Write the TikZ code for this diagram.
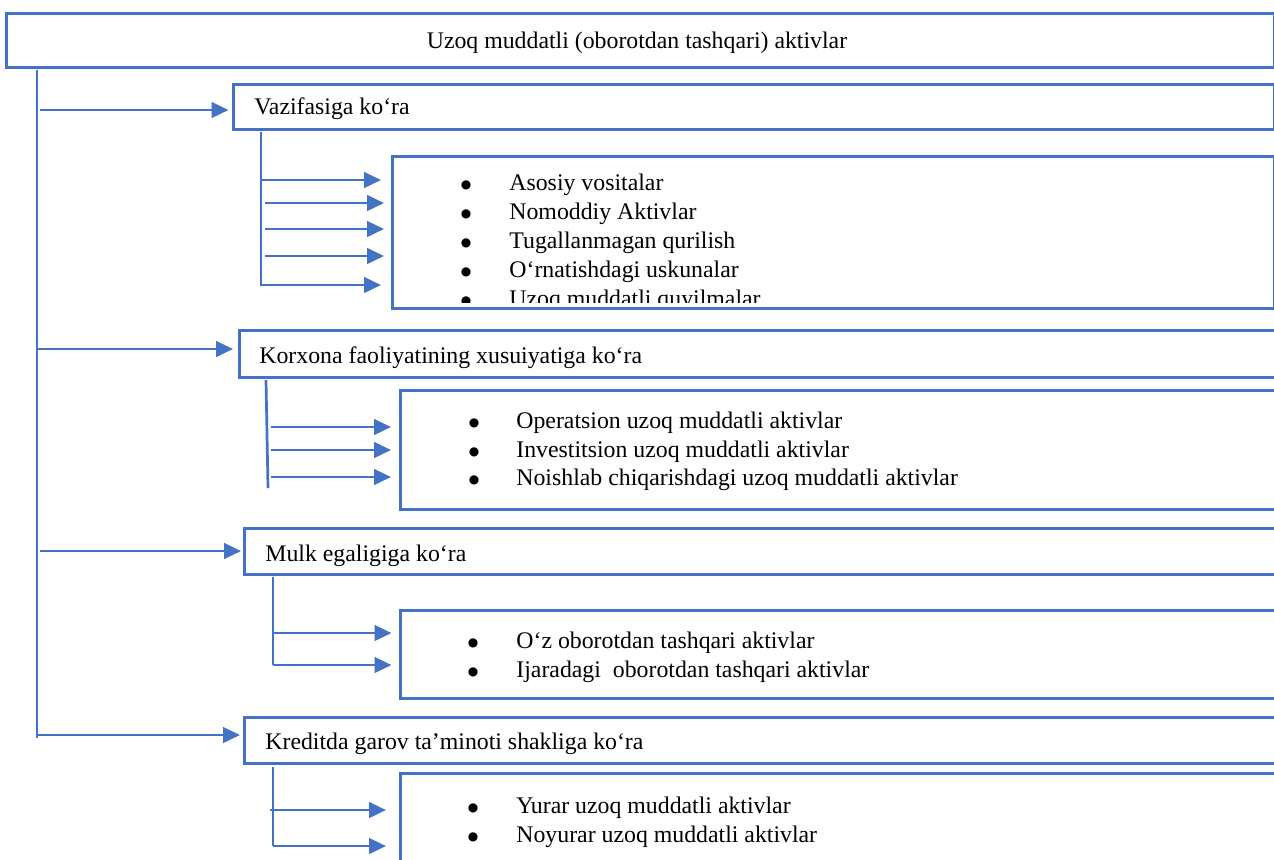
\documentclass[tikz,border=0pt]{standalone}
\usepackage{fontspec}
\setmainfont{Liberation Serif}
\newfontfamily\bulfont{DejaVu Sans}
\usetikzlibrary{arrows.meta}
\definecolor{lblue}{HTML}{4472C4}
\begin{document}
\begin{tikzpicture}[x=0.5pt,y=-0.5pt,
  box/.style={draw=lblue, line width=1.35pt, inner sep=0pt, anchor=north west, fill=none},
  conn/.style={draw=lblue, line width=1.35pt},
  arr/.style={conn, -{Triangle[length=8.5pt,width=7.8pt]}},
  txt/.style={anchor=base west, inner sep=0pt, font=\fontsize{11.9}{14.35}\selectfont},
  ctr/.style={anchor=base, inner sep=0pt, font=\fontsize{11.9}{14.35}\selectfont},
  bul/.style={anchor=base, inner sep=0pt, font=\bulfont\fontsize{6}{7}\selectfont}]
\useasboundingbox (0,0) rectangle (1274,859);
\clip (0,0) rectangle (1274,859);
\fill[white] (0,0) rectangle (1274,859);

% boxes
\node[box, minimum width=634pt, minimum height=27pt] (top) at (5,12) {};
\node[box, minimum width=520.5pt, minimum height=22.5pt] (b1) at (232,83) {};
\node[box, minimum width=441pt, minimum height=76pt] (l1) at (391,155) {};
\node[box, minimum width=526pt, minimum height=23.5pt] (b2) at (238,329) {};
\node[box, minimum width=445.5pt, minimum height=59.5pt] (l2) at (399,389) {};
\node[box, minimum width=523.5pt, minimum height=23pt] (b3) at (243,527) {};
\node[box, minimum width=445.5pt, minimum height=44pt] (l3) at (399,609) {};
\node[box, minimum width=523.5pt, minimum height=23pt] (b4) at (243,716) {};
\node[box, minimum width=445.5pt, minimum height=54pt] (l4) at (399,772) {};

% texts
\node[ctr] (title) at (637,48) {Uzoq muddatli (oborotdan tashqari) aktivlar};
\node[txt] (t1) at (254,114) {Vazifasiga ko‘ra};
\node[txt] (t2) at (259,363) {Korxona faoliyatining xusuiyatiga ko‘ra};
\node[txt] (t3) at (265,561) {Mulk egaligiga ko‘ra};
\node[txt] (t4) at (265,749) {Kreditda garov ta’minoti shakliga ko‘ra};

% list 1
\node[bul] (p1a) at (466,188) {●}; \node[txt] (i1a) at (509,190) {Asosiy vositalar};
\node[bul] (p1b) at (466,217) {●}; \node[txt] (i1b) at (509,219) {Nomoddiy Aktivlar};
\node[bul] (p1c) at (466,246) {●}; \node[txt] (i1c) at (509,248) {Tugallanmagan qurilish};
\node[bul] (p1d) at (466,275) {●}; \node[txt] (i1d) at (509,277) {O‘rnatishdagi uskunalar};
\begin{scope}
  \clip (391,155) rectangle (1273,302);
  \node[bul] (p1e) at (466,304) {●}; \node[txt] (i1e) at (509,306) {Uzoq muddatli quyilmalar};
\end{scope}

% list 2
\node[bul] (p2a) at (474,426) {●}; \node[txt] (i2a) at (516,428) {Operatsion uzoq muddatli aktivlar};
\node[bul] (p2b) at (474,455) {●}; \node[txt] (i2b) at (516,457) {Investitsion uzoq muddatli aktivlar};
\node[bul] (p2c) at (474,483) {●}; \node[txt] (i2c) at (516,485) {Noishlab chiqarishdagi uzoq muddatli aktivlar};

% list 3
\node[bul] (p3a) at (473,646) {●}; \node[txt] (i3a) at (516,648) {O‘z oborotdan tashqari aktivlar};
\node[bul] (p3b) at (473,675) {●}; \node[txt] (i3b) at (516,677) {Ijaradagi\ \ oborotdan tashqari aktivlar};

% list 4
\node[bul] (p4a) at (473,811) {●}; \node[txt] (i4a) at (516,813) {Yurar uzoq muddatli aktivlar};
\node[bul] (p4b) at (473,840) {●}; \node[txt] (i4b) at (516,842) {Noyurar uzoq muddatli aktivlar};

% main trunk
\coordinate (m0) at (37,70);
\coordinate (m1) at (37,738);
\draw[conn] (m0) -- (m1);
\coordinate (a1) at (40,110);
\coordinate (a2) at (38,349);
\coordinate (a3) at (40,551);
\coordinate (a4) at (38,735);
\draw[arr, shorten >=1.75pt] (a1) -- (a1 -| b1.west);
\draw[arr, shorten >=2.5pt] (a2) -- (a2 -| b2.west);
\draw[arr, shorten >=1pt] (a3) -- (a3 -| b3.west);
\draw[arr, shorten >=1.5pt] (a4) -- (a4 -| b4.west);

% group 1
\coordinate (g1t) at (261,132);
\coordinate (g1b) at (261,286);
\draw[conn] (g1t) -- (g1b);
\coordinate (s1a) at (261,180);
\coordinate (s1b) at (265,203);
\coordinate (s1c) at (265,229);
\coordinate (s1d) at (265,256);
\coordinate (s1e) at (261,285);
\draw[arr, shorten >=5pt] (s1a) -- (s1a -| l1.west);
\draw[arr, shorten >=3.5pt] (s1b) -- (s1b -| l1.west);
\draw[arr, shorten >=3.5pt] (s1c) -- (s1c -| l1.west);
\draw[arr, shorten >=3.5pt] (s1d) -- (s1d -| l1.west);
\draw[arr, shorten >=5pt] (s1e) -- (s1e -| l1.west);

% group 2
\coordinate (g2t) at (266,380);
\coordinate (g2b) at (268,488);
\draw[conn] (g2t) -- (g2b);
\coordinate (s2a) at (271,427);
\coordinate (s2b) at (271,450);
\coordinate (s2c) at (271,477);
\draw[arr, shorten >=4pt] (s2a) -- (s2a -| l2.west);
\draw[arr, shorten >=4pt] (s2b) -- (s2b -| l2.west);
\draw[arr, shorten >=4pt] (s2c) -- (s2c -| l2.west);

% group 3
\coordinate (g3t) at (273,577);
\coordinate (g3b) at (273,665);
\draw[conn] (g3t) -- (g3b);
\coordinate (s3a) at (273,633);
\coordinate (s3b) at (273,665);
\draw[arr, shorten >=3.75pt] (s3a) -- (s3a -| l3.west);
\draw[arr, shorten >=3.75pt] (s3b) -- (s3b -| l3.west);

% group 4
\coordinate (g4t) at (273,767);
\coordinate (g4b) at (273,846);
\draw[conn] (g4t) -- (g4b);
\coordinate (s4a) at (270,810);
\coordinate (s4b) at (273,846);
\draw[arr, shorten >=6.5pt] (s4a) -- (s4a -| l4.west);
\draw[arr, shorten >=6.5pt] (s4b) -- (s4b -| l4.west);
\end{tikzpicture}
\end{document}
